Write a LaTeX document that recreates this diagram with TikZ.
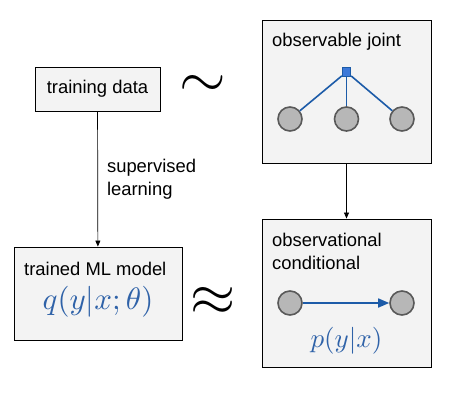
\documentclass[tikz,border=0pt]{standalone}
\usepackage{graphicx}
\usepackage{fontspec}
\setmainfont{Liberation Sans}
\usetikzlibrary{arrows.meta}

\definecolor{boxfill}{HTML}{F3F3F3}
\definecolor{nodegray}{HTML}{B7B7B7}
\definecolor{nodeline}{HTML}{595959}
\definecolor{linkblue}{HTML}{1C5BA8}
\definecolor{factorblue}{HTML}{3C78D8}
\definecolor{mathblue}{HTML}{2F62A8}

\tikzset{
	panel/.style={draw=black, fill=boxfill, line width=0.9pt, inner sep=0pt},
	label/.style={font=\fontsize{18.4}{23}\selectfont, inner sep=0pt, align=left},
	var/.style={circle, draw=nodeline, fill=nodegray, line width=1.6pt, minimum size=24pt, inner sep=0pt},
	factor/.style={draw=linkblue, fill=factorblue, line width=0.8pt, minimum size=8.5pt, inner sep=0pt},
	link/.style={draw=linkblue, line width=1.6pt},
	flow/.style={-{Triangle[length=6pt,width=5pt]}, line width=0.7pt},
	formula/.style={text=mathblue, inner sep=0pt}
}

\begin{document}
\begin{tikzpicture}[x=1pt,y=-1pt]
				\useasboundingbox (0,0) rectangle (463,408);
				
				\node (tdata) [panel, minimum width=125pt, minimum height=44pt] at (97.5,89) {};
				\node (model) [panel, minimum width=168pt, minimum height=93pt] at (98,293.5) {};
				\node (joint) [panel, minimum width=169pt, minimum height=143pt] at (346.5,91.5) {};
				\node (cond) [panel, minimum width=169pt, minimum height=148pt] at (346.5,293) {};
				
				\node (tdatatxt) [label] at (97.5,89) {training data};
				\node (modeltxt) [label, anchor=west] at (24,269) {trained ML model};
				\node (modelq) [formula] at (98,302) {\scalebox{3.1}{$q(y|x;\theta)$}};
				\node (jointtxt) [label, anchor=west] at (272,42) {observable joint};
				\node (condtxt) [label, anchor=west] at (272,251) {observational\\conditional};
				\node (condp) [formula] at (346.5,341) {\scalebox{2.7}{$p(y|x)$}};
				
				\node (sim) [inner sep=0pt] at (203,86.5) {\scalebox{6}{$\sim$}};
				\node (approx) [inner sep=0pt] at (213.5,301) {\scalebox{5.8}{$\approx$}};
				
				\node (f) [factor] at (346.5,72) {};
				\node (x1) [var] at (290,119) {};
				\node (x2) [var] at (346.5,119) {};
				\node (x3) [var] at (402,119) {};
				\node (c1) [var] at (290,303) {};
				\node (c2) [var] at (402,303) {};
				
				\draw [link] (f) edge (x1);
				\draw [link] (f) edge (x2);
				\draw [link] (f) edge (x3);
				\draw [link, -{Triangle[length=11pt,width=9pt]}] (c1) -- (c2);
				
				\draw [flow] (tdata) -- node [label, anchor=west, xshift=9pt] (sup) {supervised\\learning} (model);
				\draw [flow] (joint) -- (cond);
\end{tikzpicture}
\end{document}
